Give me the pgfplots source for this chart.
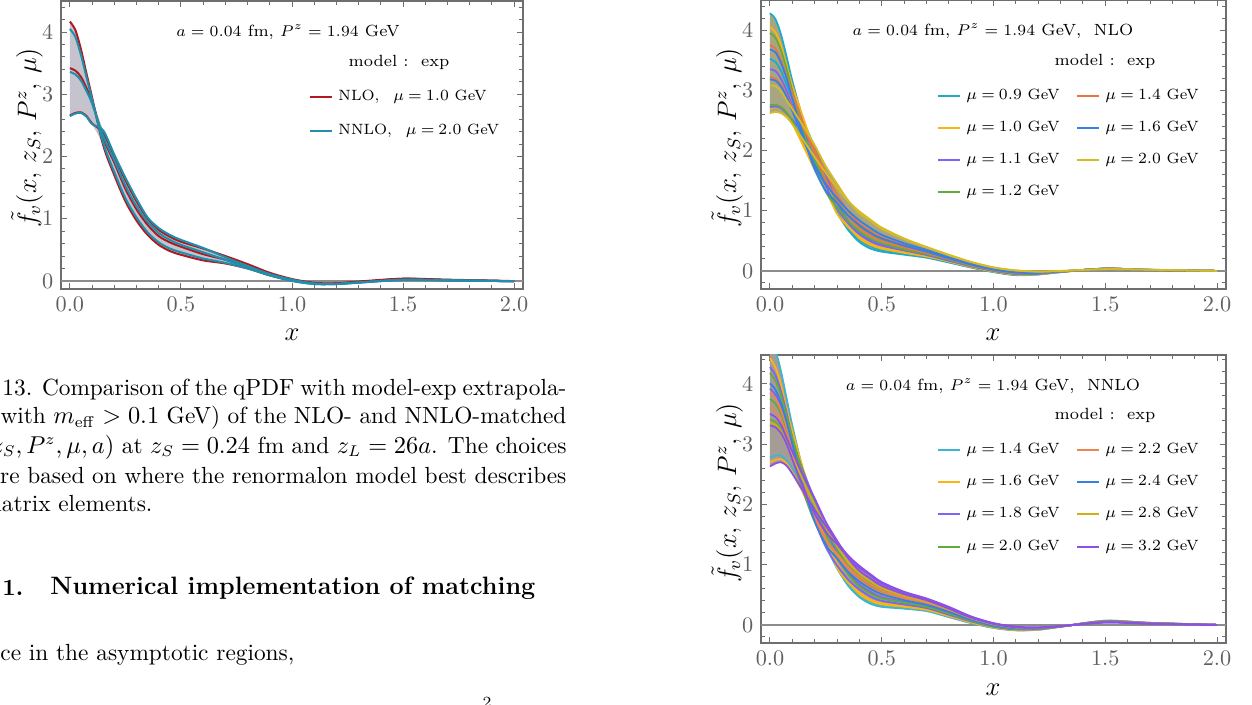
\documentclass[border=0pt]{standalone}
\usepackage{pgfplots}
\pgfplotsset{compat=1.18}
\usepackage{pgfplotstable}
\usepgfplotslibrary{fillbetween}

\definecolor{nlored}{RGB}{178,24,32}
\definecolor{nnloteal}{RGB}{32,143,172}
\definecolor{bandA}{RGB}{196,195,206}
\definecolor{bandB}{RGB}{168,165,130}
\definecolor{bandC}{RGB}{165,156,150}
\definecolor{framegray}{RGB}{110,110,110}
\definecolor{labgray}{RGB}{95,95,95}
\definecolor{zerogray}{RGB}{140,140,140}
\definecolor{mcyan}{RGB}{30,170,205}
\definecolor{mgold}{RGB}{250,180,20}
\definecolor{mviolet}{RGB}{122,102,245}
\definecolor{mgreen}{RGB}{98,172,58}
\definecolor{morange}{RGB}{236,118,62}
\definecolor{mblue}{RGB}{52,128,232}
\definecolor{myellow}{RGB}{214,188,36}
\definecolor{molive}{RGB}{208,176,22}
\definecolor{mpurple}{RGB}{140,80,230}
\definecolor{mcyanb}{RGB}{60,180,210}
\definecolor{morangeb}{RGB}{240,132,80}

\newlength{\pu}\setlength{\pu}{0.45pt}
\newcommand{\annfont}{\fontsize{7.3}{9}\selectfont}
\newcommand{\legfont}{\fontsize{6.7}{8.5}\selectfont\thickmuskip=4mu}
\newcommand{\capfont}{\fontsize{10.5}{12.6}\selectfont}
\newcommand{\labfont}{\fontsize{11.5}{14}\selectfont}
\newcommand{\legline}[4]{%
  \draw[#1, line width=1.8\pu] (#2,#3) -- ++(22,0);
  \node[anchor=west, inner sep=0pt, font=\legfont] at (#2+28,#3) {#4};}

% left panel: NLO (r) and NNLO (t) curves, band edges up/lo
\pgfplotstableread{
x     h      t1     r2     t2     r3     t3     up     lo
0     4.17   4.05   3.42   3.36   2.66   2.65   4.17   2.65
0.025 4.03   3.92   3.38   3.32   2.70   2.69   4.03   2.69
0.05  3.72   3.63   3.28   3.22   2.71   2.70   3.72   2.70
0.075 3.33   3.27   3.10   3.05   2.65   2.64   3.33   2.64
0.1   2.95   2.92   2.88   2.85   2.53   2.52   2.95   2.52
0.15  2.18   2.22   2.30   2.33   2.38   2.42   2.42   2.18
0.2   1.70   1.75   1.90   1.94   2.00   2.03   2.03   1.70
0.25  1.28   1.33   1.48   1.53   1.62   1.66   1.66   1.28
0.3   0.97   1.02   1.15   1.20   1.28   1.32   1.32   0.97
0.35  0.74   0.78   0.90   0.95   1.00   1.02   1.02   0.74
0.4   0.58   0.62   0.72   0.77   0.82   0.85   0.85   0.58
0.45  0.48   0.52   0.62   0.66   0.71   0.74   0.74   0.48
0.5   0.42   0.46   0.55   0.58   0.63   0.66   0.66   0.42
0.6   0.33   0.36   0.43   0.46   0.52   0.53   0.53   0.33
0.7   0.28   0.29   0.34   0.34   0.40   0.38   0.40   0.28
0.8   0.20   0.20   0.23   0.21   0.27   0.24   0.27   0.20
0.9   0.09   0.09   0.10   0.09   0.13   0.11   0.13   0.09
1.0   0.01   0.0    0.015  0.0    0.03   0.02   0.03   0.0
1.1   -0.04  -0.05  -0.04  -0.05  -0.03  -0.04  -0.03  -0.05
1.2   -0.04  -0.05  -0.045 -0.05  -0.04  -0.05  -0.04  -0.05
1.3   -0.01  -0.025 -0.02  -0.025 -0.02  -0.03  -0.01  -0.03
1.5   0.035  0.015  0.03   0.015  0.035  0.02   0.035  0.015
1.7   0.015  0.008  0.012  0.008  0.02   0.01   0.02   0.008
2.0   -0.005 -0.005 -0.005 -0.005 -0.003 -0.005 -0.003 -0.005
}\tabA

% top right: NLO, several mu
\pgfplotstableread{
x     c1    c2    c3    c4    c5    c6    c7    c8    c9    c10   c11   c12   c13   c14   up    lo
0     4.28  4.05  3.95  3.75  3.68  3.52  3.35  3.22  3.18  3.08  2.70  2.72  2.75  2.62  4.28  2.62
0.025 4.18  3.96  3.87  3.69  3.63  3.47  3.32  3.19  3.16  3.07  2.72  2.73  2.76  2.64  4.18  2.64
0.05  3.92  3.74  3.66  3.50  3.45  3.32  3.19  3.09  3.06  2.98  2.69  2.70  2.72  2.62  3.92  2.62
0.075 3.55  3.41  3.35  3.23  3.19  3.09  2.99  2.91  2.89  2.83  2.60  2.61  2.63  2.55  3.55  2.55
0.1   3.16  3.08  2.99  2.95  2.86  2.87  2.75  2.72  2.66  2.69  2.45  2.51  2.49  2.44  3.16  2.44
0.15  2.48  2.53  2.32  2.43  2.23  2.48  2.27  2.37  2.19  2.40  2.07  2.29  2.16  2.17  2.53  2.07
0.2   1.86  1.99  1.73  1.94  1.69  2.05  1.80  2.01  1.76  2.09  1.68  1.99  1.82  1.89  2.09  1.68
0.25  1.35  1.49  1.31  1.51  1.33  1.57  1.41  1.63  1.44  1.74  1.35  1.61  1.50  1.63  1.74  1.31
0.3   0.97  1.06  1.06  1.18  1.13  1.07  1.04  1.27  1.21  1.45  0.95  1.125 1.14  1.38  1.45  0.95
0.35  0.68  0.75  0.83  0.91  0.92  0.74  0.79  0.99  1.00  1.17  0.73  0.835 0.91  1.16  1.17  0.67
0.4   0.48  0.54  0.66  0.71  0.76  0.52  0.61  0.79  0.84  0.96  0.57  0.63  0.735 0.99  0.99  0.48
0.45  0.37  0.43  0.54  0.59  0.63  0.41  0.49  0.66  0.71  0.83  0.46  0.51  0.61  0.85  0.85  0.37
0.5   0.32  0.37  0.46  0.50  0.54  0.35  0.42  0.56  0.60  0.70  0.39  0.44  0.52  0.72  0.72  0.32
0.6   0.27  0.30  0.36  0.39  0.42  0.29  0.34  0.43  0.46  0.53  0.32  0.35  0.405 0.54  0.54  0.27
0.7   0.22  0.24  0.28  0.30  0.32  0.234 0.265 0.33  0.35  0.39  0.25  0.27  0.31  0.40  0.40  0.22
0.8   0.14  0.156 0.19  0.20  0.21  0.15  0.17  0.22  0.23  0.26  0.16  0.18  0.205 0.27  0.27  0.14
0.9   0.055 0.066 0.09  0.098 0.107 0.063 0.079 0.112 0.12  0.145 0.072 0.084 0.10  0.15  0.15  0.055
1.0   -0.02 -0.01 0.01  0.016 0.024 -0.014 0.0 0.028 0.036 0.056 -0.006 0.004 0.02 0.06  0.06  -0.02
1.1   -0.07 -0.06 -0.04 -0.034 -0.026 -0.064 -0.05 -0.022 -0.014 0.006 -0.056 -0.046 -0.03 0.01 0.01 -0.07
1.2   -0.06 -0.054 -0.04 -0.038 -0.033 -0.056 -0.048 -0.03 -0.025 -0.0125 -0.051 -0.045 -0.035 -0.01 -0.01 -0.06
1.3   -0.02 -0.018 -0.013 -0.011 -0.009 -0.018 -0.015 -0.008 -0.006 -0.001 -0.016 -0.014 -0.01 0.0 0.0 -0.02
1.5   0.04  0.039 0.037 0.036 0.035 0.039 0.038 0.034 0.033 0.03  0.038 0.037 0.035 0.03  0.04  0.03
1.7   0.015 0.016 0.017 0.017 0.018 0.015 0.016 0.018 0.019 0.02  0.016 0.017 0.0175 0.02 0.02  0.015
2.0   0     0     0     0     0     0     0     0     0     0     0     0     0     0     0     0
}\tabB

% bottom right: NNLO, several mu
\pgfplotstableread{
x     c1    c2    c3    c4    c5    c6    c7    c8    c9    c10   c11   c12   c13   c14   c15   c16   up    lo
0     4.75  4.43  4.28  4.18  4.01  3.92  3.85  3.75  3.61  3.50  3.41  3.35  3.31  2.78  2.70  2.63  4.75  2.63
0.025 4.55  4.27  4.14  4.05  3.90  3.82  3.76  3.67  3.54  3.45  3.37  3.32  3.28  2.81  2.74  2.68  4.55  2.68
0.05  4.20  3.98  3.87  3.80  3.68  3.62  3.56  3.50  3.39  3.32  3.26  3.21  3.18  2.81  2.75  2.70  4.20  2.70
0.075 3.75  3.58  3.51  3.45  3.36  3.32  3.28  3.23  3.15  3.10  3.05  3.02  3.00  2.72  2.68  2.64  3.75  2.64
0.1   3.31  3.22  3.10  3.11  3.00  3.04  2.96  2.96  2.85  2.88  2.77  2.80  2.75  2.60  2.53  2.51  3.31  2.51
0.15  2.53  2.57  2.36  2.50  2.30  2.54  2.35  2.46  2.26  2.47  2.20  2.38  2.27  2.36  2.18  2.21  2.57  2.18
0.2   1.87  2.01  1.74  1.97  1.72  2.08  1.83  2.01  1.76  2.10  1.71  1.99  1.85  2.03  1.80  1.91  2.10  1.71
0.25  1.33  1.47  1.29  1.50  1.33  1.61  1.43  1.59  1.41  1.71  1.39  1.62  1.54  1.59  1.43  1.64  1.71  1.29
0.3   0.94  1.03  0.99  1.13  1.10  1.19  1.16  1.26  1.18  1.40  1.18  1.31  1.34  1.00  0.95  1.38  1.40  0.94
0.35  0.65  0.72  0.75  0.84  0.88  0.88  0.92  0.97  0.96  1.11  0.97  1.04  1.12  0.69  0.70  1.15  1.15  0.65
0.4   0.46  0.51  0.59  0.64  0.72  0.67  0.75  0.77  0.80  0.90  0.82  0.85  0.95  0.49  0.54  0.98  0.98  0.46
0.45  0.35  0.40  0.47  0.52  0.60  0.55  0.62  0.64  0.67  0.77  0.69  0.72  0.82  0.37  0.42  0.84  0.84  0.35
0.5   0.30  0.34  0.40  0.44  0.51  0.46  0.53  0.55  0.57  0.65  0.59  0.61  0.69  0.32  0.36  0.71  0.71  0.30
0.6   0.27  0.30  0.34  0.37  0.41  0.38  0.42  0.44  0.45  0.51  0.47  0.48  0.54  0.28  0.31  0.55  0.55  0.27
0.7   0.23  0.25  0.28  0.30  0.335 0.31  0.35  0.36  0.37  0.41  0.38  0.39  0.43  0.24  0.26  0.44  0.44  0.23
0.8   0.13  0.147 0.17  0.19  0.215 0.20  0.22  0.23  0.24  0.27  0.25  0.26  0.29  0.14  0.156 0.30  0.30  0.13
0.9   0.03  0.041 0.058 0.069 0.085 0.074 0.09  0.096 0.10  0.12  0.107 0.11  0.135 0.036 0.047 0.14  0.14  0.03
1.0   -0.05 -0.042 -0.03 -0.022 -0.01 -0.018 -0.006 -0.002 0.002 0.018 0.006 0.01 0.026 -0.046 -0.038 0.03 0.03 -0.05
1.1   -0.09 -0.084 -0.075 -0.069 -0.06 -0.066 -0.057 -0.054 -0.051 -0.039 -0.048 -0.045 -0.033 -0.087 -0.081 -0.03 -0.03 -0.09
1.2   -0.08 -0.076 -0.07 -0.066 -0.06 -0.064 -0.058 -0.056 -0.054 -0.046 -0.052 -0.05 -0.042 -0.078 -0.074 -0.04 -0.04 -0.08
1.3   -0.03 -0.029 -0.028 -0.027 -0.025 -0.026 -0.0245 -0.024 -0.0235 -0.0215 -0.023 -0.0225 -0.0205 -0.0295 -0.0285 -0.02 -0.02 -0.03
1.5   0.07  0.067 0.062 0.06  0.055 0.058 0.0535 0.052 0.05 0.0445 0.049 0.0475 0.0415 0.0685 0.0655 0.04 0.07 0.04
1.7   0.035 0.034 0.031 0.03  0.0275 0.029 0.027 0.026 0.025 0.022 0.0245 0.024 0.021 0.034 0.033 0.02 0.035 0.02
2.0   0     0     0     0     0     0     0     0     0     0     0     0     0     0     0     0     0     0
}\tabC

\pgfplotsset{
  qframe/.style={
    scale only axis,
    xmin=-0.04, xmax=2.04,
    axis line style={draw=framegray, line width=0.9pt},
    tick style={draw=framegray, line width=0.45pt},
    major tick length=2.7pt, minor tick length=1.6pt,
    tick align=inside,
    xtick={0,0.5,1,1.5,2},
    xticklabels={$0.0$,$0.5$,$1.0$,$1.5$,$2.0$},
    minor xtick={0.1,0.2,0.3,0.4,0.6,0.7,0.8,0.9,1.1,1.2,1.3,1.4,1.6,1.7,1.8,1.9},
    ytick={0,1,2,3,4},
    minor ytick={-0.2,0.2,0.4,0.6,0.8,1.2,1.4,1.6,1.8,2.2,2.4,2.6,2.8,3.2,3.4,3.6,3.8,4.2,4.4},
    tick label style={text=labgray, font=\fontsize{10}{12}\selectfont},
  },
  crv/.style={smooth, line width=0.8pt, #1},
}

\begin{document}
\begin{tikzpicture}

% ---------- left panel
\begin{axis}[qframe, at={(61\pu,416\pu)}, anchor=south west,
  width=462\pu, height=288\pu, ymin=-0.13, ymax=4.5]
  \addplot[zerogray, line width=0.6pt] coordinates {(-0.05,0) (2.05,0)};
  \addplot[name path=U, draw=none, smooth] table[x=x,y=up]{\tabA};
  \addplot[name path=L, draw=none, smooth] table[x=x,y=lo]{\tabA};
  \addplot[bandA] fill between[of=U and L];
  \addplot[crv={nlored, line width=0.9pt}] table[x=x,y=h]{\tabA};
  \addplot[crv={nlored, line width=0.9pt}] table[x=x,y=r2]{\tabA};
  \addplot[crv={nlored, line width=0.9pt}] table[x=x,y=r3]{\tabA};
  \addplot[crv={nnloteal, line width=0.9pt}] table[x=x,y=t1]{\tabA};
  \addplot[crv={nnloteal, line width=0.9pt}] table[x=x,y=t2]{\tabA};
  \addplot[crv={nnloteal, line width=0.9pt}] table[x=x,y=t3]{\tabA};
\end{axis}

% ---------- top right panel
\begin{axis}[qframe, at={(761\pu,416\pu)}, anchor=south west,
  width=465\pu, height=289\pu, ymin=-0.3, ymax=4.5]
  \addplot[zerogray, line width=0.6pt] coordinates {(-0.05,0) (2.05,0)};
  \addplot[name path=U, draw=none, smooth] table[x=x,y=up]{\tabB};
  \addplot[name path=L, draw=none, smooth] table[x=x,y=lo]{\tabB};
  \addplot[bandB] fill between[of=U and L];
  \addplot[crv=mcyan]   table[x=x,y=c1]{\tabB};
  \addplot[crv=mcyan]   table[x=x,y=c6]{\tabB};
  \addplot[crv=mgold]   table[x=x,y=c2]{\tabB};
  \addplot[crv=mgold]   table[x=x,y=c11]{\tabB};
  \addplot[crv=mviolet] table[x=x,y=c7]{\tabB};
  \addplot[crv=mviolet] table[x=x,y=c12]{\tabB};
  \addplot[crv=mgreen]  table[x=x,y=c3]{\tabB};
  \addplot[crv=mgreen]  table[x=x,y=c13]{\tabB};
  \addplot[crv=morange] table[x=x,y=c4]{\tabB};
  \addplot[crv=morange] table[x=x,y=c8]{\tabB};
  \addplot[crv=mblue]   table[x=x,y=c5]{\tabB};
  \addplot[crv=mblue]   table[x=x,y=c9]{\tabB};
  \addplot[crv=myellow] table[x=x,y=c10]{\tabB};
  \addplot[crv=myellow] table[x=x,y=c14]{\tabB};
\end{axis}

% ---------- bottom right panel
\begin{axis}[qframe, at={(761\pu,62\pu)}, anchor=south west,
  width=465\pu, height=288\pu, ymin=-0.3, ymax=4.48]
  \addplot[zerogray, line width=0.6pt] coordinates {(-0.05,0) (2.05,0)};
  \addplot[name path=U, draw=none, smooth] table[x=x,y=up]{\tabC};
  \addplot[name path=L, draw=none, smooth] table[x=x,y=lo]{\tabC};
  \addplot[bandC] fill between[of=U and L];
  \addplot[crv=mcyanb]   table[x=x,y=c1]{\tabC};
  \addplot[crv=mcyanb]   table[x=x,y=c14]{\tabC};
  \addplot[crv=mgold]    table[x=x,y=c2]{\tabC};
  \addplot[crv=mgold]    table[x=x,y=c15]{\tabC};
  \addplot[crv=mviolet]  table[x=x,y=c3]{\tabC};
  \addplot[crv=mviolet]  table[x=x,y=c6]{\tabC};
  \addplot[crv=mgreen]   table[x=x,y=c4]{\tabC};
  \addplot[crv=mgreen]   table[x=x,y=c8]{\tabC};
  \addplot[crv=mgreen]   table[x=x,y=c11]{\tabC};
  \addplot[crv=morangeb] table[x=x,y=c7]{\tabC};
  \addplot[crv=morangeb] table[x=x,y=c9]{\tabC};
  \addplot[crv=mblue]    table[x=x,y=c5]{\tabC};
  \addplot[crv=molive]   table[x=x,y=c12]{\tabC};
  \addplot[crv=mpurple]  table[x=x,y=c10]{\tabC};
  \addplot[crv=mpurple]  table[x=x,y=c13]{\tabC};
  \addplot[crv=mpurple]  table[x=x,y=c16]{\tabC};
\end{axis}

\begin{scope}[x=\pu,y=\pu]
\clip (0,0) rectangle (1252,705);
% ---------- axis labels
\node[rotate=90, font=\labfont] at (27,567) {$\tilde{f}_v(x,\, z_S,\, P^z,\, \mu)$};
\node[font=\labfont] at (292,370) {$x$};
\node[rotate=90, font=\labfont] at (727,567) {$\tilde{f}_v(x,\, z_S,\, P^z,\, \mu)$};
\node[font=\labfont] at (993,370) {$x$};
\node[rotate=90, font=\labfont] at (727,212) {$\tilde{f}_v(x,\, z_S,\, P^z,\, \mu)$};
\node[font=\labfont] at (993,15) {$x$};

% ---------- annotations, left
\node[font=\annfont] at (288,673) {$a = 0.04$ fm, $P^z = 1.94$ GeV};
\node[font=\annfont] at (399,643) {model :\ \ exp};
\legline{nlored}{310}{608}{NLO,\hspace{14\pu}$\mu = 1.0$ GeV}
\legline{nnloteal}{310}{574}{NNLO,\hspace{14\pu}$\mu = 2.0$ GeV}

% ---------- annotations, top right
\node[font=\annfont] at (993,674) {$a = 0.04$ fm, $P^z = 1.94$ GeV,\ \ NLO};
\node[font=\annfont] at (1105,644) {model :\ \ exp};
\legline{mcyan}{938}{609}{$\mu = 0.9$ GeV}
\legline{mgold}{938}{577}{$\mu = 1.0$ GeV}
\legline{mviolet}{938}{545}{$\mu = 1.1$ GeV}
\legline{mgreen}{938}{513}{$\mu = 1.2$ GeV}
\legline{morange}{1077}{609}{$\mu = 1.4$ GeV}
\legline{mblue}{1077}{577}{$\mu = 1.6$ GeV}
\legline{myellow}{1077}{545}{$\mu = 2.0$ GeV}

% ---------- annotations, bottom right
\node[font=\annfont] at (993,319) {$a = 0.04$ fm, $P^z = 1.94$ GeV,\ \ NNLO};
\node[font=\annfont] at (1105,290) {model :\ \ exp};
\legline{mcyanb}{938}{255}{$\mu = 1.4$ GeV}
\legline{mgold}{938}{223}{$\mu = 1.6$ GeV}
\legline{mviolet}{938}{191}{$\mu = 1.8$ GeV}
\legline{mgreen}{938}{158}{$\mu = 2.0$ GeV}
\legline{morangeb}{1077}{255}{$\mu = 2.2$ GeV}
\legline{mblue}{1077}{223}{$\mu = 2.4$ GeV}
\legline{molive}{1077}{191}{$\mu = 2.8$ GeV}
\legline{mpurple}{1077}{158}{$\mu = 3.2$ GeV}

% ---------- caption and body text of the page
\node[anchor=west, inner sep=0pt, font=\capfont] at (2,315)
  {\hbox to 564\pu{13. Comparison of the qPDF with model-exp extrapola-}};
\node[anchor=west, inner sep=0pt, font=\capfont] at (-9,287)
  {\hbox to 575\pu{(with $m_{\mathrm{eff}} > 0.1$ GeV) of the NLO- and NNLO-matched}};
\node[anchor=west, inner sep=0pt, font=\capfont] at (-9,258)
  {\hbox to 575\pu{$z_S, P^z, \mu, a)$ at $z_S = 0.24$ fm and $z_L = 26a$. The choices}};
\node[anchor=west, inner sep=0pt, font=\capfont] at (-12,229)
  {\hbox to 578\pu{are based on where the renormalon model best describes}};
\node[anchor=west, inner sep=0pt, font=\capfont] at (-18,201) {matrix elements.};
\node[anchor=west, inner sep=0pt, font=\capfont\bfseries] at (2,117) {1.};
\node[anchor=west, inner sep=0pt, font=\fontsize{11.3}{13}\selectfont\bfseries] at (50,117)
  {Numerical implementation of matching};
\node[anchor=west, inner sep=0pt, font=\capfont] at (0,50) {ce in the asymptotic regions,};
\node[anchor=south, inner sep=0pt, font=\fontsize{7}{8}\selectfont] at (487,-3) {2};
\end{scope}
\pgfresetboundingbox
\useasboundingbox (0,0) rectangle (1252\pu,705\pu);
\end{tikzpicture}
\end{document}
